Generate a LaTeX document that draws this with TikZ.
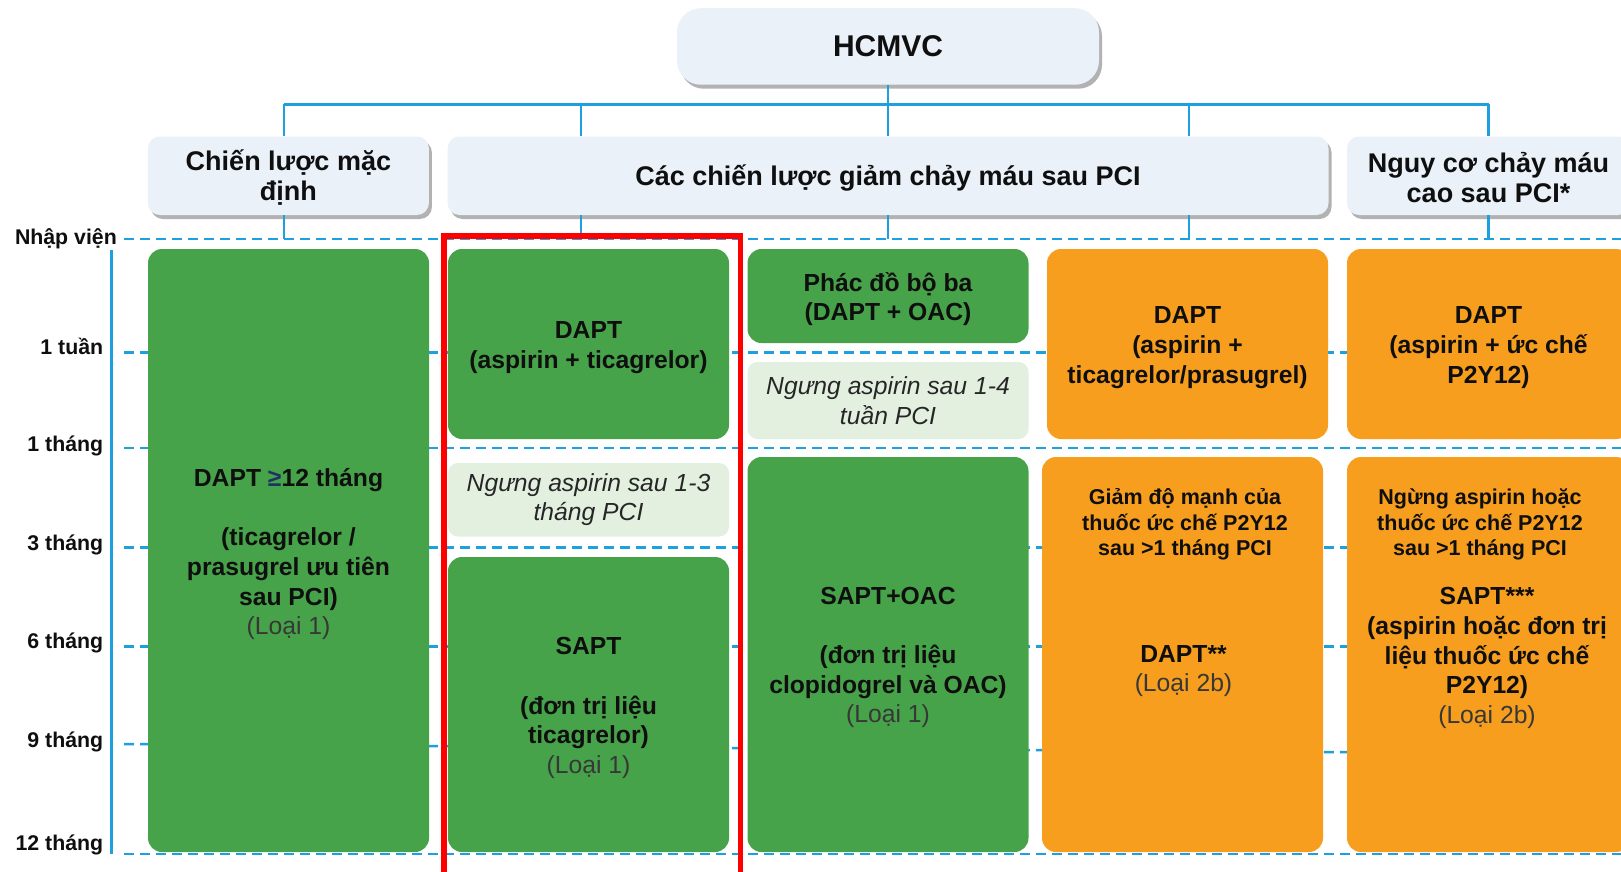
\documentclass[tikz,border=0pt]{standalone}
\usepackage{fontspec}
\setmainfont{Liberation Sans}
\usetikzlibrary{shadows}
\definecolor{gr}{RGB}{71,163,73}
\definecolor{orx}{RGB}{247,158,30}
\definecolor{lgr}{RGB}{227,240,224}
\definecolor{hb}{RGB}{234,241,249}
\definecolor{ln}{RGB}{30,160,222}
\definecolor{txt}{RGB}{15,15,15}
\definecolor{loaicol}{RGB}{55,55,55}
\definecolor{geq}{RGB}{30,50,100}
\newcommand{\fsz}[2]{\fontsize{#1}{#2}\selectfont}
\newcommand{\loai}[1]{{\mdseries\color{loaicol}#1}}
\begin{document}
\begin{tikzpicture}[x=1pt,y=-1pt,
  boxbase/.style={rounded corners=14pt, inner sep=0pt},
  gbox/.style={boxbase, fill=gr},
  obox/.style={boxbase, fill=orx},
  lbox/.style={boxbase, fill=lgr, rounded corners=10pt, align=center, font=\itshape\fsz{24.7}{29.7}, text=black!85},
  hbox/.style={fill=hb, rounded corners=12pt, inner sep=0pt},
  shad/.style={drop shadow={shadow xshift=3pt, shadow yshift=-4pt, fill=black!60, opacity=0.5}},
  htxt/.style={inner sep=0pt, align=center, text=txt, font=\bfseries\fsz{27}{30}},
  conn/.style={draw=ln, line width=2.5pt},
  dline/.style={draw=ln, line width=2.5pt, dash pattern=on 10pt off 6pt},
  ticklbl/.style={anchor=east, inner sep=0pt, text=txt, font=\bfseries\fsz{21.3}{24}},
  smalltxt/.style={inner sep=0pt, align=center, text=txt, font=\bfseries\fsz{21.5}{25.3}},
  plaintxt/.style={inner sep=0pt, align=center, text=txt, font=\bfseries\fsz{24.7}{29.7}}
]
\clip (0,0) rectangle (1621,872);
\fill[white] (0,0) rectangle (1621,872);

% time grid (dashed)
\draw[dline] (124,238.8) -- (1625,238.8);
\draw[dline] (124,352.5) -- (1625,352.5);
\draw[dline] (124,448) -- (1625,448);
\draw[dline] (124,547.5) -- (1625,547.5);
\draw[dline] (124,646.5) -- (1625,646.5);
\draw[dline] (124,744) -- (1625,754);
\draw[dline] (124,854) -- (1625,854);
% time axis
\draw[conn] (111.6,250) -- (111.6,854);

% top
\node[hbox, shad, rounded corners=24pt, minimum width=422pt, minimum height=76.5pt] (hc) at (888,46.5) {};
\node[htxt, font=\bfseries\fsz{30}{32}] (hct) at (hc.center) {HCMVC};

% headers
\node[hbox, shad, minimum width=281pt, minimum height=78.5pt] (h1) at (288.4,175.75) {};
\node[hbox, shad, minimum width=881pt, minimum height=78.5pt] (h2) at (888,175.75) {};
\node[hbox, shad, minimum width=283pt, minimum height=78.5pt] (h3) at (1488.5,175.75) {};
\node[htxt] (h1t) at ([yshift=-2pt]h1.center) {Chiến lược mặc\\định};
\node[htxt] (h2t) at ([yshift=-2pt]h2.center) {Các chiến lược giảm chảy máu sau PCI};
\node[htxt] (h3t) at ([yshift=-2pt]h3.center) {Nguy cơ chảy máu\\cao sau PCI*};

% column 1
\node[gbox, minimum width=281pt, minimum height=603pt] (c1) at (288.5,550.5) {};
\node[plaintxt] (c1t) at ([yshift=-3.5pt]c1.center)
  {DAPT {\color{geq}≥}12 tháng\\[29.7pt](ticagrelor /\\prasugrel ưu tiên\\sau PCI)\\\loai{(Loại 1)}};

% column 2
\node[gbox, minimum width=281pt, minimum height=190pt] (c2a) at (588.5,344) {};
\node[plaintxt] (c2at) at ([yshift=-3.5pt]c2a.center) {DAPT\\(aspirin + ticagrelor)};
\node[lbox, minimum width=281pt, minimum height=73.5pt] (c2b) at (588.5,499.75) {Ngưng aspirin sau 1-3\\tháng PCI};
\node[gbox, minimum width=281pt, minimum height=295pt] (c2c) at (588.5,704.5) {};
\node[plaintxt] (c2ct) at ([yshift=-3.5pt]c2c.center)
  {SAPT\\[29.7pt](đơn trị liệu\\ticagrelor)\\\loai{(Loại 1)}};

% column 3
\node[gbox, minimum width=281pt, minimum height=94pt] (c3a) at (888,296) {};
\node[plaintxt] (c3at) at ([yshift=-3pt]c3a.center) {Phác đồ bộ ba\\(DAPT + OAC)};
\node[lbox, minimum width=281pt, minimum height=77pt] (c3b) at (888,400.5) {Ngưng aspirin sau 1-4\\tuần PCI};
\node[gbox, minimum width=281pt, minimum height=395pt] (c3c) at (888,654.5) {};
\node[plaintxt] (c3ct) at ([yshift=-3pt]c3c.center)
  {SAPT+OAC\\[29.7pt](đơn trị liệu\\clopidogrel và OAC)\\\loai{(Loại 1)}};

% column 4
\node[obox, minimum width=281pt, minimum height=190pt] (c4a) at (1187.5,344) {};
\node[plaintxt] (c4at) at ([yshift=-3.5pt]c4a.center) {DAPT\\(aspirin +\\ticagrelor/prasugrel)};
\node[obox, minimum width=281pt, minimum height=395pt] (c4b) at (1182.5,654.5) {};
\node[smalltxt] (c4t) at (1185,524.5) {Giảm độ mạnh của\\thuốc ức chế P2Y12\\sau >1 tháng PCI};
\node[plaintxt] (c4m) at (1183.5,671) {DAPT**\\\loai{(Loại 2b)}};

% column 5
\node[obox, minimum width=283pt, minimum height=190pt] (c5a) at (1488.5,344) {};
\node[plaintxt] (c5at) at ([yshift=-3.5pt]c5a.center) {DAPT\\(aspirin + ức chế\\P2Y12)};
\node[obox, minimum width=283pt, minimum height=395pt] (c5b) at (1488.5,654.5) {};
\node[smalltxt] (c5t) at (1480,524.5) {Ngừng aspirin hoặc\\thuốc ức chế P2Y12\\sau >1 tháng PCI};
\node[plaintxt] (c5m) at (1487,658) {SAPT***\\(aspirin hoặc đơn trị\\liệu thuốc ức chế\\P2Y12)\\\loai{(Loại 2b)}};

% connectors
\coordinate (bus) at (888,104.4);
\coordinate (b1) at (284,104.4);
\coordinate (b2) at (581,104.4);
\coordinate (b4) at (1189,104.4);
\coordinate (b5) at (1488.5,104.4);
\coordinate (d1) at (284,238.8);
\coordinate (d2) at (581,238.8);
\coordinate (d3) at (888,238.8);
\coordinate (d4) at (1189,238.8);
\coordinate (d5) at (1488.5,238.8);
\draw[conn] (hc.south) -- (bus);
\draw[conn] (b1) -- (b5);
\draw[conn] (b1) -- (b1 |- h1.north);
\draw[conn] (b2) -- (b2 |- h2.north);
\draw[conn] (bus) -- (h2.north);
\draw[conn] (b4) -- (b4 |- h2.north);
\draw[conn] (b5) -- (b5 |- h3.north);
\draw[conn] (d1 |- h1.south) -- (d1);
\draw[conn] (d2 |- h2.south) -- (d2);
\draw[conn] (d3 |- h2.south) -- (d3);
\draw[conn] (d4 |- h2.south) -- (d4);
\draw[conn] (d5 |- h3.south) -- (d5);

% time labels
\node[ticklbl] (t0) at (117,238.5) {Nhập viện};
\node[ticklbl] (t1) at (103.4,346.5) {1 tuần};
\node[ticklbl] (t2) at (103.4,445.5) {1 tháng};
\node[ticklbl] (t3) at (103.4,545) {3 tháng};
\node[ticklbl] (t4) at (103.4,643) {6 tháng};
\node[ticklbl] (t5) at (103.4,742) {9 tháng};
\node[ticklbl] (t6) at (103.4,844.5) {12 tháng};

% highlight
\draw[red, line width=5.5pt] (444,236) rectangle (740.5,890);
\end{tikzpicture}
\end{document}
